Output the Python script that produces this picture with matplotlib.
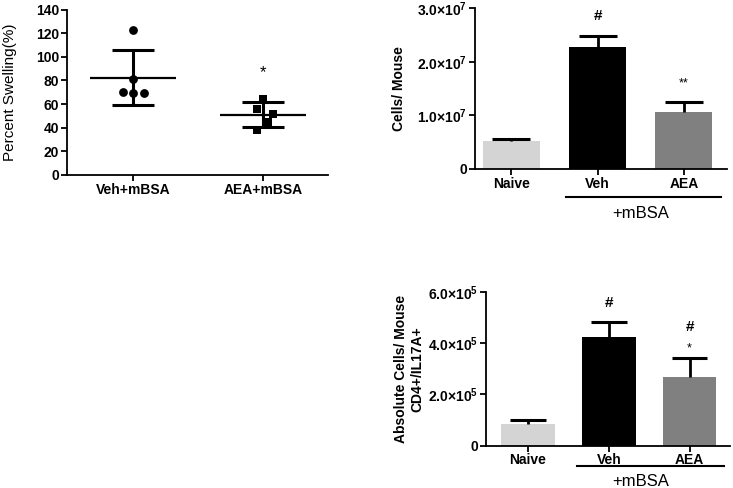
import matplotlib
matplotlib.use('Agg')
import matplotlib.pyplot as plt
import numpy as np

plt.rcParams['font.family'] = ['Liberation Sans', 'DejaVu Sans']
plt.rcParams['mathtext.fontset'] = 'custom'
plt.rcParams['mathtext.rm'] = 'Liberation Sans:bold'
plt.rcParams['mathtext.it'] = 'Liberation Sans:bold'
plt.rcParams['mathtext.bf'] = 'Liberation Sans:bold'

# panel A: percent swelling, individual mice
swell_groups = ['Veh+mBSA', 'AEA+mBSA']
veh_points = [122.5, 81.5, 70, 69, 69]
veh_offsets = [0, 0, -0.08, 0, 0.08]
aea_points = [64.5, 56, 52, 45, 38]
aea_offsets = [0, -0.05, 0.08, 0.04, -0.05]
swell_mean = [82.5, 51]
swell_sd = [23, 10.5]
swell_sig = ['', '*']

# panel B: total cells / mouse
bar_groups = ['Naive', 'Veh', 'AEA']
cells_mean = [5.2e6, 2.27e7, 1.07e7]
cells_err = [0.4e6, 0.22e7, 0.19e7]

# panel C: CD4+/IL17A+ cells / mouse
il17_mean = [0.83e5, 4.25e5, 2.68e5]
il17_err = [0.16e5, 0.58e5, 0.73e5]

bar_colors = ['#d4d4d4', '#000000', '#808080']

fig = plt.figure(figsize=(7.33, 4.88), dpi=100)


def style_axes(ax):
    for s in ['top', 'right']:
        ax.spines[s].set_visible(False)
    for s in ['left', 'bottom']:
        ax.spines[s].set_linewidth(1.3)
    ax.tick_params(width=1.3, length=4, labelsize=10, pad=1.5)
    for lab in ax.get_xticklabels() + ax.get_yticklabels():
        lab.set_fontweight('bold')


def sci_label(v, p):
    if v == 0:
        return '0'
    e = int(np.floor(np.log10(v)))
    return r'$%.1f{\times}10^{%d}$' % (v / 10 ** e, e)


def bars_with_err(ax, means, errs):
    xs = np.arange(len(means))
    ax.bar(xs, means, width=0.66, color=bar_colors, zorder=2)
    for i in range(len(means)):
        top = means[i] + errs[i]
        ax.vlines(xs[i], means[i], top, color='black', lw=2, zorder=3)
        ax.hlines(top, xs[i] - 0.22, xs[i] + 0.22, color='black', lw=2.2, zorder=3)
    ax.set_xticks(xs)
    ax.set_xticklabels(bar_groups)


# ---- panel A
axA = fig.add_axes([0.0914, 0.6414, 0.356, 0.339])
for i, (pts, offs) in enumerate([(veh_points, veh_offsets), (aea_points, aea_offsets)]):
    x = [i + o for o in offs]
    axA.scatter(x, pts, s=40, color='black', marker='o' if i == 0 else 's', zorder=3, linewidths=0)
    axA.hlines(swell_mean[i], i - 0.33, i + 0.33, color='black', lw=1.6)
    axA.vlines(i, swell_mean[i] - swell_sd[i], swell_mean[i] + swell_sd[i], color='black', lw=2.2)
    axA.hlines([swell_mean[i] - swell_sd[i], swell_mean[i] + swell_sd[i]], i - 0.16, i + 0.16, color='black', lw=2.2)
    if swell_sig[i]:
        axA.text(i, 87, swell_sig[i], ha='center', va='center', fontsize=12)
axA.set_xlim(-0.51, 1.5)
axA.set_ylim(0, 140)
axA.set_yticks(range(0, 141, 20))
axA.set_xticks([0, 1])
axA.set_xticklabels(swell_groups)
axA.set_ylabel('Percent Swelling(%)', fontsize=11, labelpad=14)
style_axes(axA)

# ---- panel B
axB = fig.add_axes([0.648, 0.6537, 0.3438, 0.3293])
bars_with_err(axB, cells_mean, cells_err)
axB.text(1, 2.85e7, '#', ha='center', va='center', fontsize=11, fontweight='bold')
axB.text(2, 1.6e7, '**', ha='center', va='center', fontsize=9)
axB.set_xlim(-0.42, 2.5)
axB.set_ylim(0, 3.0e7)
axB.set_yticks([0, 1e7, 2e7, 3e7])
axB.yaxis.set_major_formatter(matplotlib.ticker.FuncFormatter(sci_label))
axB.set_ylabel('Cells/ Mouse', fontsize=10, fontweight='bold', labelpad=8)
style_axes(axB)
axB.plot([0.64, 2.43], [-0.174, -0.174], transform=axB.get_xaxis_transform(),
         color='black', lw=1.5, clip_on=False)
axB.text(1.5, -0.275, '+mBSA', transform=axB.get_xaxis_transform(),
         ha='center', va='center', fontsize=12)

# ---- panel C
axC = fig.add_axes([0.663, 0.0867, 0.333, 0.315])
bars_with_err(axC, il17_mean, il17_err)
axC.text(1, 5.55e5, '#', ha='center', va='center', fontsize=11, fontweight='bold')
axC.text(2, 4.65e5, '#', ha='center', va='center', fontsize=11, fontweight='bold')
axC.text(2, 3.8e5, '*', ha='center', va='center', fontsize=9)
axC.set_xlim(-0.52, 2.5)
axC.set_ylim(0, 6.0e5)
axC.set_yticks([0, 2e5, 4e5, 6e5])
axC.yaxis.set_major_formatter(matplotlib.ticker.FuncFormatter(sci_label))
axC.set_ylabel('Absolute Cells/ Mouse\nCD4+/IL17A+', fontsize=10, fontweight='bold', labelpad=3)
style_axes(axC)
axC.plot([0.6, 2.43], [-0.132, -0.132], transform=axC.get_xaxis_transform(),
         color='black', lw=1.5, clip_on=False)
axC.text(1.4, -0.236, '+mBSA', transform=axC.get_xaxis_transform(),
         ha='center', va='center', fontsize=12)

fig.savefig('out.png', dpi=100)
